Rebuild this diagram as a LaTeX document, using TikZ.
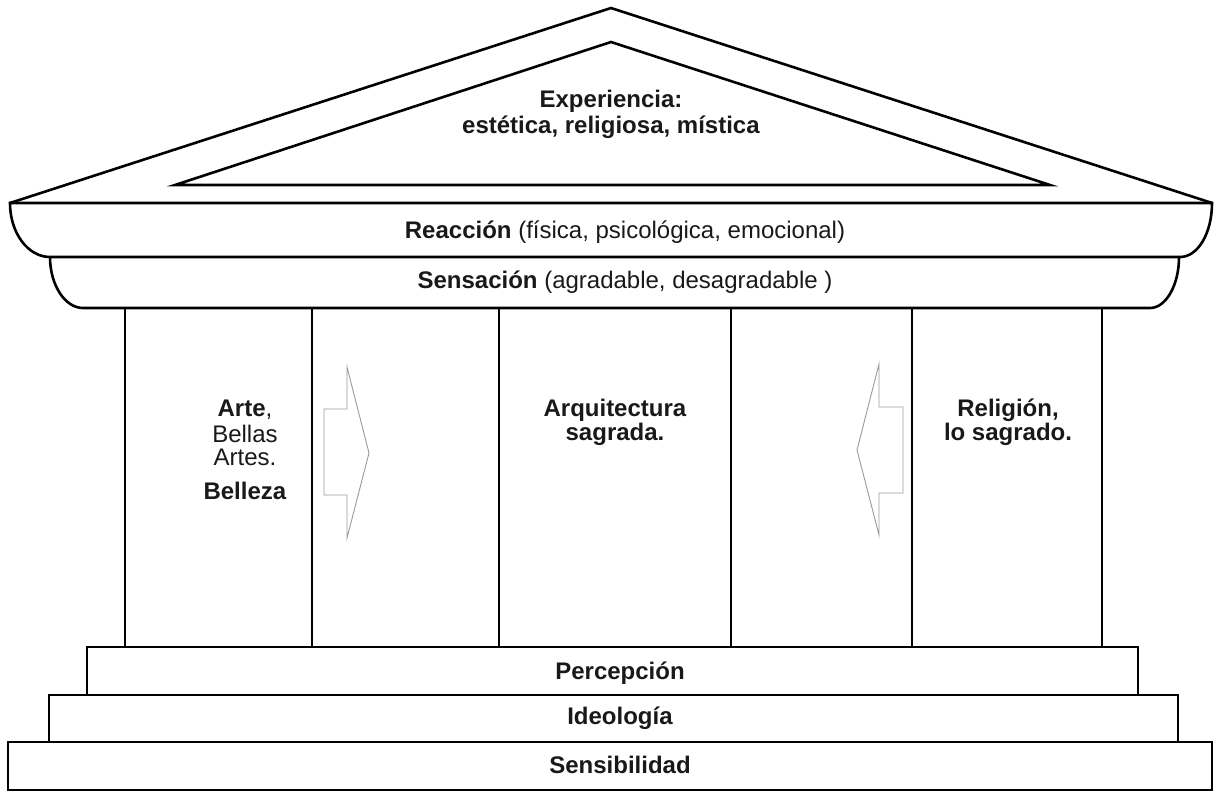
\documentclass[tikz,border=0pt]{standalone}
\usepackage{fontspec}
\setmainfont{Liberation Sans}
\begin{document}
\begin{tikzpicture}[x=1pt,y=-1pt,line join=miter]
\tikzset{
  wall/.style={draw=black,line width=2.6pt},
  grayarrow/.style={draw=black!40,line width=0.9pt},
  lbl/.style={font=\fontsize{24}{25}\selectfont,text=black!90,align=center,inner sep=0pt},
}
\useasboundingbox (0,0) rectangle (1217,792);
% roof
\draw[wall] (10,203) -- (611,8) -- (1212,203);
\draw[wall] (175,185) -- (611,42) -- (1050,185) -- cycle;
% cornice
\draw[wall] (10,203) -- (1212,203) .. controls (1212,233) and (1198,257) .. (1180,257)
  -- (50,257) .. controls (28,257) and (10,233) .. (10,203) -- cycle;
% frieze
\draw[wall] (50,257) .. controls (50,285) and (65,308) .. (83,308) -- (1150,308)
  .. controls (1166,308) and (1179,285) .. (1179,257);
% columns
\foreach \x in {125,312,499,731,912,1102} \draw[wall] (\x,308) -- (\x,647);
% steps
\draw[wall] (87,695) -- (87,647) -- (1138,647) -- (1138,695);
\draw[wall] (49,742) -- (49,695) -- (1178,695) -- (1178,742);
\draw[wall] (8,742) rectangle (1212,790);
% arrows
\draw[grayarrow] (324,409) -- (347,409) -- (347,367) -- (369,453) -- (347,538) -- (347,495) -- (324,495) -- cycle;
\draw[grayarrow] (903,407) -- (879,407) -- (879,364) -- (857,450) -- (879,535) -- (879,493) -- (903,493) -- cycle;
% texts
\node[lbl] (exp) at (611,101) {\textbf{Experiencia:}};
\node[lbl] (est) at (611,127) {\textbf{estética, religiosa, mística}};
\node[lbl] (reac) at (625,232) {\textbf{Reacción} (física, psicológica, emocional)};
\node[lbl] (sens) at (625,282) {\textbf{Sensación} (agradable, desagradable )};
\node[lbl] (arte) at (245,410) {\textbf{Arte},};
\node[lbl] (bellas) at (245,434) {Bellas};
\node[lbl] (artes) at (245,457) {Artes.};
\node[lbl] (belleza) at (245,491) {\textbf{Belleza}};
\node[lbl] (arq) at (615,410) {\textbf{Arquitectura}};
\node[lbl] (sag) at (615,434) {\textbf{sagrada.}};
\node[lbl] (rel) at (1008,410) {\textbf{Religión,}};
\node[lbl] (losag) at (1008,434) {\textbf{lo sagrado.}};
\node[lbl] (perc) at (620,673) {\textbf{Percepción}};
\node[lbl] (ideo) at (620,718) {\textbf{Ideología}};
\node[lbl] (sensi) at (620,765) {\textbf{Sensibilidad}};
\end{tikzpicture}
\end{document}
